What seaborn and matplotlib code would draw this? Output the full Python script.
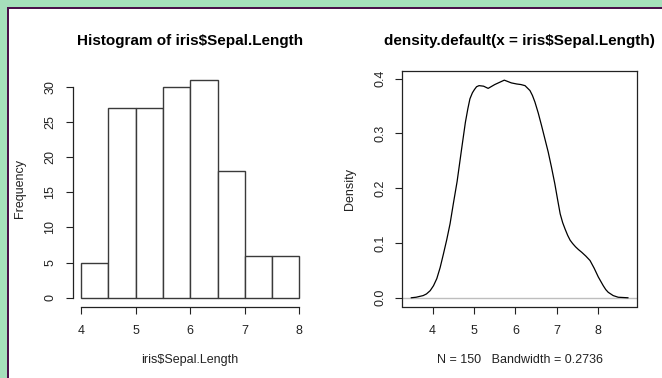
import matplotlib
matplotlib.use("Agg")
import matplotlib.pyplot as plt
from matplotlib.patches import Rectangle
import seaborn as sns

# ---- data ----
bin_edges = [4.0, 4.5, 5.0, 5.5, 6.0, 6.5, 7.0, 7.5, 8.0]
bin_counts = [5, 27, 27, 30, 31, 18, 6, 6]
hist_xticks = [4, 5, 6, 7, 8]
hist_yticks = [0, 5, 10, 15, 20, 25, 30]

dens_x = [3.48, 3.60, 3.77, 3.85, 3.94, 4.02, 4.10, 4.18, 4.26, 4.34, 4.42,
          4.50, 4.59, 4.70, 4.79, 4.85, 4.90, 4.96, 5.01, 5.06, 5.12, 5.23,
          5.34, 5.50, 5.73, 5.90, 6.03, 6.13, 6.23, 6.35, 6.41, 6.47, 6.55,
          6.63, 6.79, 6.87, 6.95, 7.02, 7.08, 7.14, 7.20, 7.26, 7.32, 7.38,
          7.45, 7.52, 7.60, 7.70, 7.80, 7.90, 8.00, 8.06, 8.12, 8.18, 8.24,
          8.36, 8.48, 8.72]
dens_y = [0.000, 0.001, 0.004, 0.007, 0.013, 0.022, 0.035, 0.055, 0.080,
          0.106, 0.135, 0.172, 0.212, 0.272, 0.320, 0.345, 0.363, 0.374,
          0.380, 0.385, 0.387, 0.386, 0.382, 0.389, 0.397, 0.392, 0.390,
          0.389, 0.387, 0.378, 0.369, 0.357, 0.337, 0.314, 0.266, 0.238,
          0.208, 0.178, 0.153, 0.137, 0.125, 0.114, 0.105, 0.099, 0.093,
          0.088, 0.083, 0.076, 0.068, 0.054, 0.038, 0.030, 0.022, 0.015,
          0.010, 0.004, 0.001, 0.000]
dens_xticks = [4, 5, 6, 7, 8]
dens_yticks = [0.0, 0.1, 0.2, 0.3, 0.4]
dens_yticklabels = ["0.0", "0.1", "0.2", "0.3", "0.4"]

title_left = "Histogram of iris$Sepal.Length"
title_right = "density.default(x = iris$Sepal.Length)"
xlabel_left = "iris$Sepal.Length"
ylabel_left = "Frequency"
xlabel_right = "N = 150   Bandwidth = 0.2736"
ylabel_right = "Density"

# ---- style ----
sns.set_style("ticks")
plt.rcParams["font.family"] = ["Liberation Sans", "DejaVu Sans"]
plt.rcParams["xtick.major.size"] = 5
plt.rcParams["ytick.major.size"] = 5
plt.rcParams["xtick.major.width"] = 0.8
plt.rcParams["ytick.major.width"] = 0.8

W, H = 662, 378
fig = plt.figure(figsize=(W / 100, H / 100), dpi=100)

# background frame: green border, purple line, white panel
fig.patches.append(Rectangle((0, 0), 1, 1, transform=fig.transFigure,
                             facecolor="#a6dfbb", edgecolor="none", zorder=-10))
fig.patches.append(Rectangle((7.3 / W, 0), 1, 1 - 6.7 / H, transform=fig.transFigure,
                             facecolor="#4b0f4b", edgecolor="none", zorder=-9))
fig.patches.append(Rectangle((9.3 / W, 0), 1, 1 - 8.7 / H, transform=fig.transFigure,
                             facecolor="white", edgecolor="none", zorder=-8))

txt_col = "#222222"
ax1 = fig.add_axes([72.5 / W, 1 - 306.5 / H, 235.5 / W, 235.5 / H])
ax2 = fig.add_axes([402.4 / W, 1 - 306.5 / H, 234.4 / W, 235.5 / H])
for ax in (ax1, ax2):
    ax.patch.set_alpha(0)

# ---- histogram ----
mids = [(a + b) / 2 for a, b in zip(bin_edges[:-1], bin_edges[1:])]
sns.histplot(x=mids, weights=bin_counts, bins=bin_edges, ax=ax1,
             color="white", edgecolor="#3a3a3a", linewidth=1.0, alpha=1)
ax1.set_xlim(3.84, 8.16)
ax1.set_ylim(-1.24, 32.24)
ax1.set_xticks(hist_xticks)
ax1.set_yticks(hist_yticks)
ax1.set_yticklabels([str(v) for v in hist_yticks], rotation=90, va="center")
for s in ("top", "right"):
    ax1.spines[s].set_visible(False)
ax1.spines["left"].set_bounds(0, 30)
ax1.spines["bottom"].set_bounds(4, 8)
ax1.set_xlabel("")
ax1.set_ylabel("")

# ---- density ----
ax2.axhline(0, color="#bebebe", lw=1.0, zorder=1)
sns.lineplot(x=dens_x, y=dens_y, ax=ax2, color="black", lw=0.9,
             estimator=None, sort=False, zorder=2)
ax2.set_xlim(3.269, 8.93)
ax2.set_ylim(-0.0159, 0.4137)
ax2.set_xticks(dens_xticks)
ax2.set_yticks(dens_yticks)
ax2.set_yticklabels(dens_yticklabels, rotation=90, va="center")
ax2.set_xlabel("")
ax2.set_ylabel("")

for ax in (ax1, ax2):
    for s in ax.spines.values():
        s.set_color("#222222")
        s.set_linewidth(0.9)
    ax.tick_params(axis="both", labelsize=9, colors="#222222", labelcolor=txt_col)
    ax.tick_params(axis="x", pad=8)
    ax.tick_params(axis="y", pad=6.5)

# ---- texts ----
fig.text(190 / W, 1 - 41 / H, title_left, ha="center", va="center",
         fontsize=11, fontweight="bold", color="black")
fig.text(519.6 / W, 1 - 41 / H, title_right, ha="center", va="center",
         fontsize=11, fontweight="bold", color="black")
fig.text(190 / W, 1 - 360 / H, xlabel_left, ha="center", va="center", fontsize=9, color=txt_col)
fig.text(519.6 / W, 1 - 360 / H, xlabel_right, ha="center", va="center", fontsize=9, color=txt_col)
fig.text(20 / W, 1 - 189 / H, ylabel_left, ha="center", va="center", rotation=90,
         fontsize=9, color=txt_col)
fig.text(350 / W, 1 - 189 / H, ylabel_right, ha="center", va="center", rotation=90,
         fontsize=9, color=txt_col)

fig.savefig("out.png", dpi=100)
